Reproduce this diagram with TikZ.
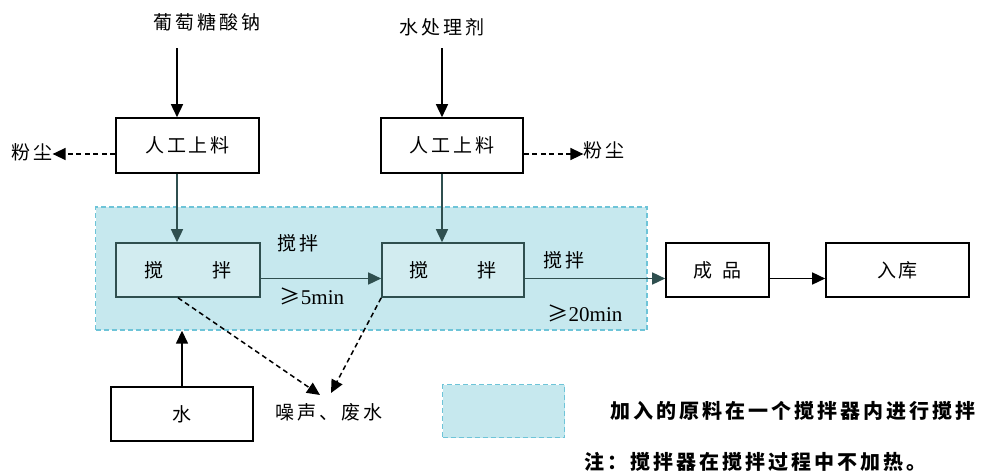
\documentclass[tikz,border=0pt]{standalone}
\usepackage{fontspec}
\setmainfont{Liberation Serif}
\newfontfamily\cjk[LetterSpace=15]{Noto Sans CJK SC}
\newfontfamily\cjkn{Noto Sans CJK SC}
\usetikzlibrary{arrows.meta}
\definecolor{zone}{HTML}{C6E8EE}
\definecolor{zoneb}{HTML}{6EC4D8}
\definecolor{stirfill}{HTML}{D2ECF0}
\definecolor{slate}{HTML}{2F4F4F}
\begin{document}
\begin{tikzpicture}[x=1pt,y=-1pt,
  every node/.style={inner sep=0pt, font=\cjk\fontsize{19}{23}\selectfont},
  box/.style={draw=black, line width=1.6pt, fill=white},
  stirbox/.style={draw=slate, line width=1.6pt, fill=stirfill},
  zonebox/.style={draw=zoneb, fill=zone, line width=1.4pt, dash pattern=on 5pt off 3pt},
  arr/.style={line width=1.5pt, -{Triangle[length=13pt,width=12pt]}},
  darr/.style={arr, draw=slate, fill=slate},
  dasharr/.style={arr, dash pattern=on 5pt off 3.5pt},
  lat/.style={font=\fontsize{21}{24}\selectfont},
  legfont/.style={font=\cjk\bfseries\fontsize{20}{24}\selectfont}
]
\fill[white] (0,0) rectangle (989,474);
\useasboundingbox (0,0) rectangle (989,474);

% zone
\node[zonebox, minimum width=551.5pt, minimum height=123pt] (zone) at (371.25,268.5) {};

% inputs
\node (glu) at (207,22) {葡萄糖酸钠};
\node (agent) at (442,27) {水处理剂};
\coordinate (g1) at (177,48);
\coordinate (g2) at (442,48);

\node[box, minimum width=143pt, minimum height=55pt] (feed1) at (187.5,145.5) {人工上料};
\node[box, minimum width=142pt, minimum height=55pt] (feed2) at (452,145.5) {人工上料};

\node (dust1) at (32,152) {粉尘};
\node (dust2) at (604,150) {粉尘};

\node[stirbox, minimum width=144pt, minimum height=54pt] (stir1) at (188,270) {搅\hspace{50pt}拌};
\node[stirbox, minimum width=142pt, minimum height=54pt] (stir2) at (453,270) {搅\hspace{50pt}拌};

\node[box, minimum width=103pt, minimum height=54pt] (prod) at (717.5,270) {成\hspace{10pt}品};
\node[box, minimum width=143pt, minimum height=54pt] (store) at (897.5,270) {入库};

\node[box, minimum width=142pt, minimum height=54pt] (water) at (182,414) {水};

\node (noise) at (329,412) {噪声、废水};
\coordinate (n1) at (320,395);
\coordinate (n2) at (331,393);

% labels in zone
\node (l1a) at (298,243) {搅拌};
\node[lat] (l1b) at (312,296) {{\cjkn ≥}5min};
\node (l2a) at (564,260) {搅拌};
\node[lat] (l2b) at (585,313) {{\cjkn ≥}20min};

% legend
\node[zonebox, minimum width=122pt, minimum height=53pt] (leg) at (503.5,411) {};
\node[legfont] (legt) at (793,411) {加入的原料在一个搅拌器内进行搅拌};
\node[legfont] (note) at (755,462) {注：搅拌器在搅拌过程中不加热。};

% connectors
\draw[arr] (g1) -- (g1 |- feed1.north);
\draw[arr] (g2) -- (g2 |- feed2.north);
\draw[dasharr] ([yshift=-8.5pt]feed1.west) -- ([yshift=-8.5pt]feed1.west -| dust1.east);
\draw[dasharr] ([yshift=-8.5pt]feed2.east) -- ([yshift=-8.5pt]feed2.east -| dust2.west);
\draw[darr] ([xshift=-10.5pt]feed1.south) -- ([xshift=-11pt]stir1.north);
\draw[darr] ([xshift=-10pt]feed2.south) -- ([xshift=-11pt]stir2.north);
\draw[darr] ([yshift=-8.5pt]stir1.east) -- ([yshift=-8.5pt]stir2.west);
\draw[arr, draw=slate] ([yshift=-8.5pt]stir2.east) -- ([yshift=-8.5pt]prod.west);
\draw[arr] ([yshift=-8.5pt]prod.east) -- ([yshift=-8.5pt]store.west);
\draw[arr] (water.north) -- (water.north |- zone.south);
\draw[dasharr] ([xshift=-10pt]stir1.south) -- (n1);
\draw[dasharr] (stir2.south west) -- (n2);
\end{tikzpicture}
\end{document}
